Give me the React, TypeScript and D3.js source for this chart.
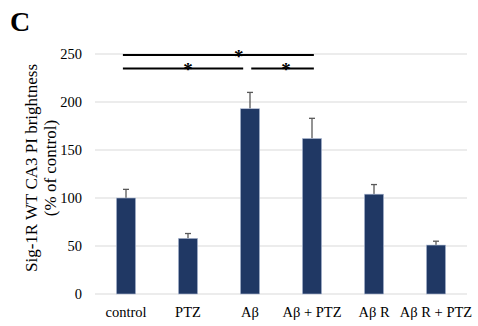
import React, { useEffect, useRef } from 'react';
import * as d3 from 'd3';

// chart values
const categories = ['control', 'PTZ', 'Aβ', 'Aβ + PTZ', 'Aβ R', 'Aβ R + PTZ'];
const means = [100, 58, 193, 162, 104, 51];
const errors = [9, 5, 17, 21, 10, 4];
const yTicks = [0, 50, 100, 150, 200, 250];

// significance brackets (positions in category-index units, level in % of control)
const brackets = [
  { from: -0.05, to: 3.03, level: 249, star: 1.82 },
  { from: -0.05, to: 1.89, level: 235, star: 1.0 },
  { from: 2.02, to: 3.03, level: 235, star: 2.58 },
];

const App = () => {
  const svgRef = useRef<SVGSVGElement>(null);

  useEffect(() => {
    const W = 478;
    const H = 326;
    const margin = { top: 54, right: 11, bottom: 32, left: 95 };
    const width = W - margin.left - margin.right;
    const height = H - margin.top - margin.bottom;

    d3.select(svgRef.current).selectAll('*').remove();

    const root = d3.select(svgRef.current)
      .attr('width', W)
      .attr('height', H)
      .style('font-family', '"Liberation Serif", "Times New Roman", serif');

    const svg = root.append('g')
      .attr('transform', `translate(${margin.left},${margin.top})`);

    const x = d3.scaleBand()
      .domain(categories)
      .range([0, width])
      .paddingInner(0.69)
      .paddingOuter(0.345);

    const y = d3.scaleLinear()
      .domain([0, 250])
      .range([height, 0]);

    // index scale for the bracket lines
    const xi = d3.scaleLinear()
      .domain([0, 1])
      .range([x(categories[0])! + x.bandwidth() / 2, x(categories[1])! + x.bandwidth() / 2]);

    // gridlines
    svg.selectAll('.grid')
      .data(yTicks)
      .enter()
      .append('line')
      .attr('x1', 0)
      .attr('x2', width)
      .attr('y1', d => y(d))
      .attr('y2', d => y(d))
      .attr('stroke', '#d9d9d9')
      .attr('stroke-width', 1);

    // tick labels
    svg.selectAll('.ytick')
      .data(yTicks)
      .enter()
      .append('text')
      .attr('x', -13)
      .attr('y', d => y(d))
      .attr('dy', '0.35em')
      .attr('text-anchor', 'end')
      .style('font-size', '14.5px')
      .style('fill', '#000')
      .text(d => d);

    // error bars (upper only)
    const eb = svg.selectAll('.err')
      .data(categories)
      .enter()
      .append('g')
      .attr('stroke', '#595959')
      .attr('stroke-width', 1.3);
    eb.append('line')
      .attr('x1', d => x(d)! + x.bandwidth() / 2)
      .attr('x2', d => x(d)! + x.bandwidth() / 2)
      .attr('y1', (d, i) => y(means[i]))
      .attr('y2', (d, i) => y(means[i] + errors[i]));
    eb.append('line')
      .attr('x1', d => x(d)! + x.bandwidth() / 2 - 3)
      .attr('x2', d => x(d)! + x.bandwidth() / 2 + 3)
      .attr('y1', (d, i) => y(means[i] + errors[i]))
      .attr('y2', (d, i) => y(means[i] + errors[i]));

    // bars
    svg.selectAll('.bar')
      .data(categories)
      .enter()
      .append('rect')
      .attr('x', d => x(d)!)
      .attr('y', (d, i) => y(means[i]))
      .attr('width', x.bandwidth())
      .attr('height', (d, i) => height - y(means[i]))
      .attr('fill', '#203864')
      .attr('stroke', '#b4c0d8')
      .attr('stroke-width', 0.6);

    // x labels
    svg.selectAll('.xlabel')
      .data(categories)
      .enter()
      .append('text')
      .attr('x', d => x(d)! + x.bandwidth() / 2)
      .attr('y', height + 23)
      .attr('text-anchor', 'middle')
      .style('font-size', '14.5px')
      .style('fill', '#000')
      .text(d => d);

    // significance brackets
    svg.selectAll('.br')
      .data(brackets)
      .enter()
      .append('line')
      .attr('x1', d => xi(d.from))
      .attr('x2', d => xi(d.to))
      .attr('y1', d => y(d.level))
      .attr('y2', d => y(d.level))
      .attr('stroke', '#000')
      .attr('stroke-width', 2);

    svg.selectAll('.star')
      .data(brackets)
      .enter()
      .append('text')
      .attr('x', d => xi(d.star))
      .attr('y', d => y(d.level) + 8)
      .attr('text-anchor', 'middle')
      .style('font-size', '19px')
      .style('font-weight', 'bold')
      .text('*');

    // y axis title
    const title = root.append('text')
      .attr('transform', `translate(0,${margin.top + height / 2 - 6}) rotate(-90)`)
      .attr('text-anchor', 'middle')
      .style('font-size', '17px');
    title.append('tspan').attr('x', 0).attr('y', 37).text('Sig-1R WT CA3 PI brightness');
    title.append('tspan').attr('x', 0).attr('y', 56).text('(% of control)');

    // panel letter
    root.append('text')
      .attr('x', 10)
      .attr('y', 31)
      .style('font-size', '28px')
      .style('font-weight', 'bold')
      .text('C');
  }, []);

  return (
    <svg ref={svgRef} style={{ position: 'absolute', left: 0, top: 0, background: '#fff' }}></svg>
  );
};

export default App;
